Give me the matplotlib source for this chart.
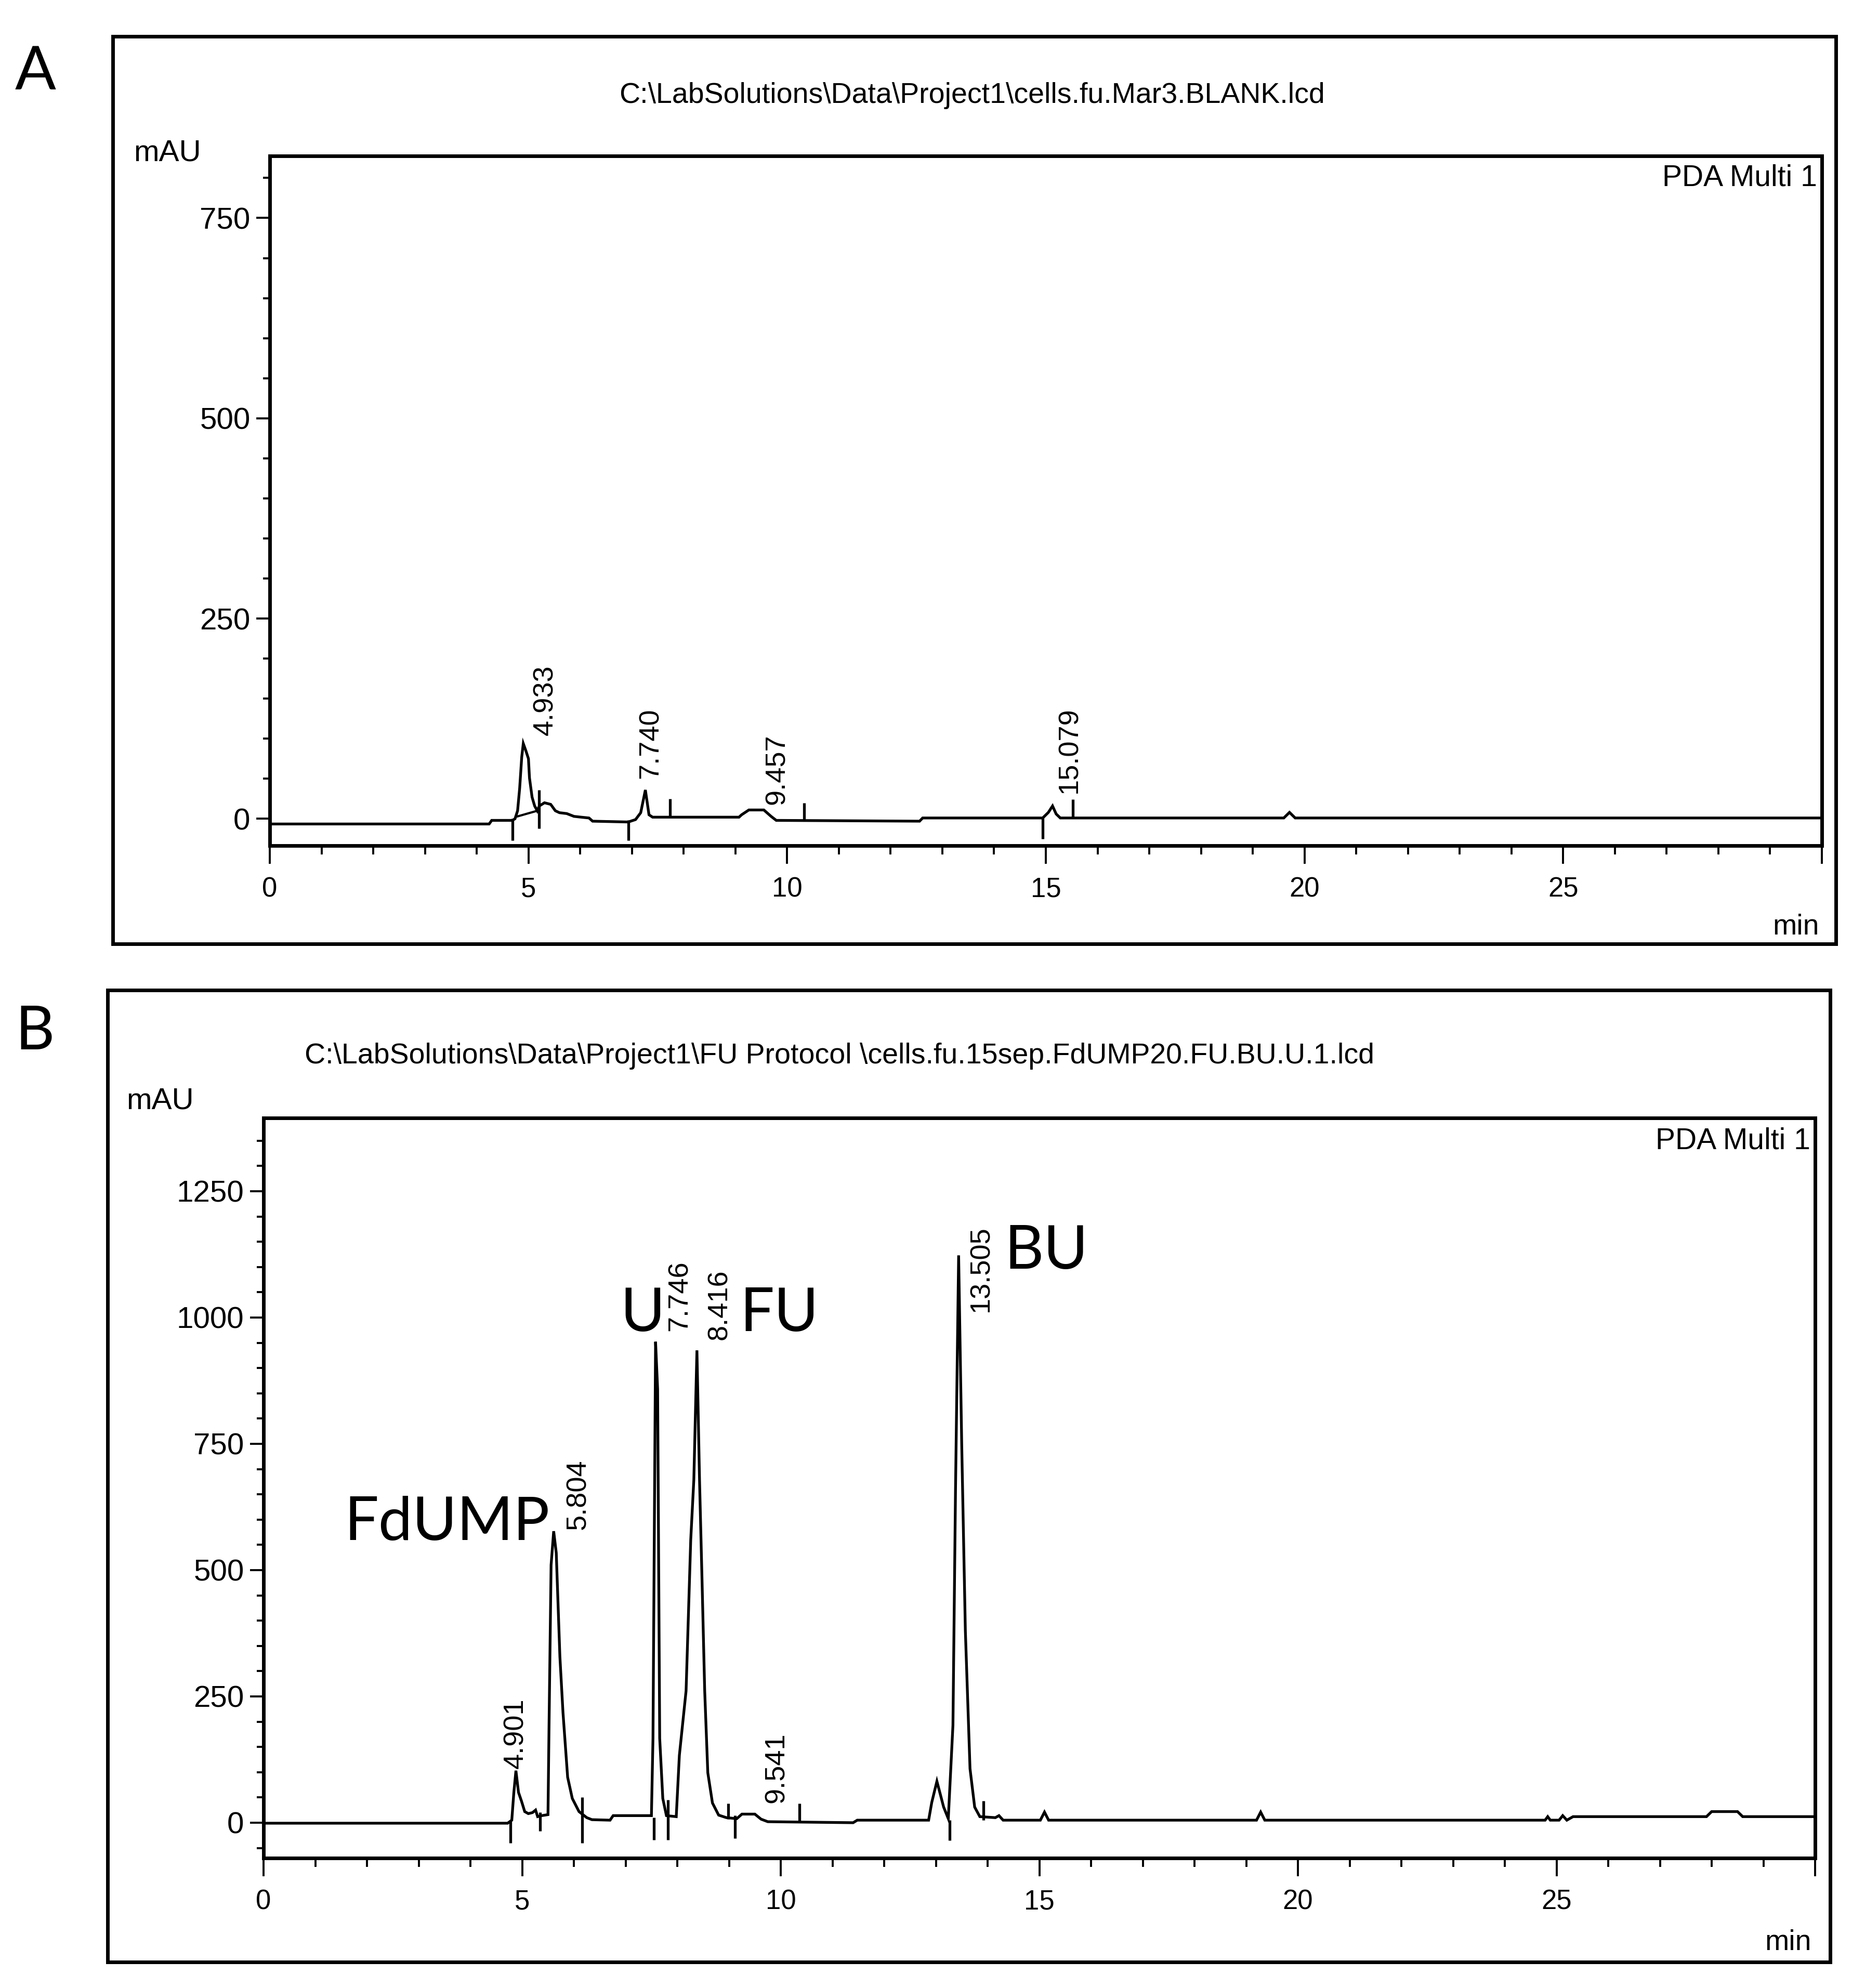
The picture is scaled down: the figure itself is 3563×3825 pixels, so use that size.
import matplotlib
matplotlib.use('Agg')
import matplotlib.pyplot as plt
from matplotlib.patches import Rectangle
from matplotlib.ticker import MultipleLocator, FixedLocator, FuncFormatter

# ---- panel A: blank (time in min, signal in mAU) ----
blank_t = [0, 4.24, 4.29, 4.69, 4.74, 4.79, 4.83, 4.87, 4.90, 4.95, 5.00, 5.02,
           5.07, 5.12, 5.17, 5.21, 5.31, 5.43, 5.52, 5.60, 5.74, 5.88, 6.02, 6.17,
           6.24, 6.93, 7.07, 7.17, 7.26, 7.33, 7.40, 9.07, 9.12, 9.26, 9.55, 9.69,
           9.79, 12.56, 12.62, 14.94, 15.05, 15.13, 15.20, 15.28, 19.60, 19.71,
           19.82, 30.0]
blank_mau = [-6.5, -6.5, -2, -2, 0, 10, 38, 77, 94, 85, 75, 51,
             27, 16, 10, 16, 20, 18, 10, 7.6, 6.5, 3, 2, 1,
             -3, -4, -1, 7.6, 36, 5, 2, 2, 5, 11, 11, 3,
             -2, -3, 1, 1, 8, 16, 6, 1, 1, 8,
             1, 1]
blank_base_t = [4.79, 5.17]
blank_base_mau = [3, 10]
blank_marks_t = [4.69, 5.20, 6.93, 7.74, 10.33, 14.94, 15.52]
blank_marks_lo = [-27, -12, -27, 2, -3, -25, 1]
blank_marks_hi = [0, 36, -2, 25, 20, 1, 24]
blank_peaks = ['4.933', '7.740', '9.457', '15.079']
blank_peak_t = [5.33, 7.36, 9.81, 15.46]
blank_peak_mau = [104, 50, 18, 32]

# ---- panel B: FdUMP / U / FU / BU sample ----
sample_t = [0, 4.72, 4.80, 4.84, 4.88, 4.93, 4.99, 5.05, 5.12, 5.20, 5.26, 5.30,
            5.38, 5.50, 5.52, 5.56, 5.61, 5.66, 5.73, 5.79, 5.88, 5.97, 6.10, 6.25,
            6.35, 6.70, 6.76, 7.50, 7.53, 7.58, 7.62, 7.66, 7.72, 7.79, 7.98, 8.04,
            8.17, 8.26, 8.32, 8.38, 8.43, 8.48, 8.53, 8.59, 8.68, 8.80, 8.95, 9.15,
            9.25, 9.50, 9.62, 9.75, 11.40, 11.48, 12.86, 12.92, 13.02, 13.15, 13.24,
            13.33, 13.38, 13.44, 13.50, 13.57, 13.66, 13.75, 13.85, 14.15, 14.22,
            14.30, 15.02, 15.10, 15.18, 19.20, 19.28, 19.36, 24.78, 24.83, 24.88,
            25.05, 25.12, 25.20, 25.32, 27.90, 28.00, 28.50, 28.60, 30.0]
sample_mau = [-1, -1, 5, 60, 103, 60, 42, 22, 18, 20, 25, 12,
              14, 16, 190, 510, 577, 534, 329, 218, 90, 48, 22, 10,
              6, 5, 14, 14, 167, 952, 858, 167, 48, 14, 12, 133,
              261, 560, 679, 935, 679, 474, 261, 99, 39, 15, 10, 8,
              17, 17, 7, 2, 0, 5, 5, 40, 82, 31, 8,
              193, 662, 1123, 747, 380, 107, 31, 12, 10, 14,
              5, 5, 21, 5, 5, 21, 5, 5, 12, 5,
              5, 14, 5, 12, 12, 22, 22, 12, 12]
sample_marks_t = [4.77, 5.35, 6.16, 7.55, 7.82, 8.98, 9.12, 10.36, 13.27, 13.92]
sample_marks_lo = [-40, -17, -40, -34, -34, 7, -31, 0, -35, 5]
sample_marks_hi = [5, 21, 50, 10, 45, 38, 14, 38, 5, 43]
sample_peaks = ['4.901', '5.804', '7.746', '8.416', '9.541', '13.505']
sample_peak_t = [4.88, 6.08, 8.05, 8.82, 9.92, 13.87]
sample_peak_mau = [107, 580, 973, 956, 39, 1011]
compounds = ['FdUMP', 'U', 'FU', 'BU']
compound_t = [3.55, 7.33, 9.97, 15.14]
compound_mau = [560, 973, 973, 1097]

W, H = 3563, 3825
plt.rcParams['font.family'] = ['Liberation Sans', 'DejaVu Sans']

fig = plt.figure(figsize=(W / 100, H / 100), dpi=100)


def fx(px):
    return px / W


def fy(py):
    return 1 - py / H


def draw_panel(ax, t, mau, mk_t, mk_lo, mk_hi, ylim, yticks, peaks, pk_t, pk_mau):
    ax.plot(t, mau, color='black', lw=3.8, solid_joinstyle='miter')
    ax.vlines(mk_t, mk_lo, mk_hi, color='black', lw=3.8)
    ax.set_xlim(0, 30)
    ax.set_ylim(*ylim)
    ax.xaxis.set_major_locator(MultipleLocator(5))
    ax.xaxis.set_minor_locator(MultipleLocator(1))
    ax.yaxis.set_major_locator(FixedLocator(yticks))
    ax.yaxis.set_minor_locator(MultipleLocator(50))
    ax.xaxis.set_major_formatter(FuncFormatter(lambda x, _: '' if x >= 30 else '%g' % x))
    ax.tick_params(axis='y', which='major', length=19, width=2.8, labelsize=42, pad=8)
    ax.tick_params(axis='y', which='minor', length=9.5, width=2.8)
    ax.tick_params(axis='x', which='major', length=25, width=2.8, labelsize=38, pad=18)
    ax.tick_params(axis='x', which='minor', length=12, width=2.8)
    for s in ax.spines.values():
        s.set_linewidth(5)
    for lab, x, y in zip(peaks, pk_t, pk_mau):
        ax.text(x, y, lab, rotation=90, ha='center', va='bottom', fontsize=39)
    ax.text(0.997, 0.988, 'PDA Multi 1', transform=ax.transAxes, ha='right', va='top',
            fontsize=41)


# panel A
axA = fig.add_axes([fx(519), fy(1627), fx(3505 - 519), (1627 - 300) / H])
draw_panel(axA, blank_t, blank_mau, blank_marks_t, blank_marks_lo, blank_marks_hi,
           (-33.5, 827.5), [0, 250, 500, 750], blank_peaks, blank_peak_t, blank_peak_mau)
axA.plot(blank_base_t, blank_base_mau, color='black', lw=3)

# panel B
axB = fig.add_axes([fx(507), fy(3575), fx(3492 - 507), (3575 - 2151) / H])
draw_panel(axB, sample_t, sample_mau, sample_marks_t, sample_marks_lo, sample_marks_hi,
           (-70, 1395), [0, 250, 500, 750, 1000, 1250], sample_peaks, sample_peak_t,
           sample_peak_mau)
for name, x, y in zip(compounds, compound_t, compound_mau):
    axB.text(x, y, name, ha='center', va='baseline', fontsize=84,
             family=['Lato', 'DejaVu Sans'])

# frames, headers, axis names
fig.add_artist(Rectangle((fx(217), fy(1816)), fx(3532 - 217), (1816 - 70) / H,
                         transform=fig.transFigure, fill=False, lw=5, color='black'))
fig.add_artist(Rectangle((fx(207), fy(3775)), fx(3521 - 207), (3775 - 1905) / H,
                         transform=fig.transFigure, fill=False, lw=5, color='black'))

fig.text(fx(1870), fy(184), r'C:\LabSolutions\Data\Project1\cells.fu.Mar3.BLANK.lcd',
         ha='center', va='center', fontsize=40)
fig.text(fx(586), fy(2032),
         r'C:\LabSolutions\Data\Project1\FU Protocol \cells.fu.15sep.FdUMP20.FU.BU.U.1.lcd',
         ha='left', va='center', fontsize=40)

fig.text(fx(257), fy(310), 'mAU', ha='left', va='baseline', fontsize=42)
fig.text(fx(243), fy(2133), 'mAU', ha='left', va='baseline', fontsize=42)
fig.text(fx(3500), fy(1798), 'min', ha='right', va='baseline', fontsize=40)
fig.text(fx(3485), fy(3752), 'min', ha='right', va='baseline', fontsize=40)

fig.text(fx(29), fy(172), 'A', ha='left', va='baseline', fontsize=84,
         family=['Lato', 'DejaVu Sans'])
fig.text(fx(29), fy(2019), 'B', ha='left', va='baseline', fontsize=84,
         family=['Lato', 'DejaVu Sans'])

fig.savefig('out.png', dpi=100, facecolor='white')
